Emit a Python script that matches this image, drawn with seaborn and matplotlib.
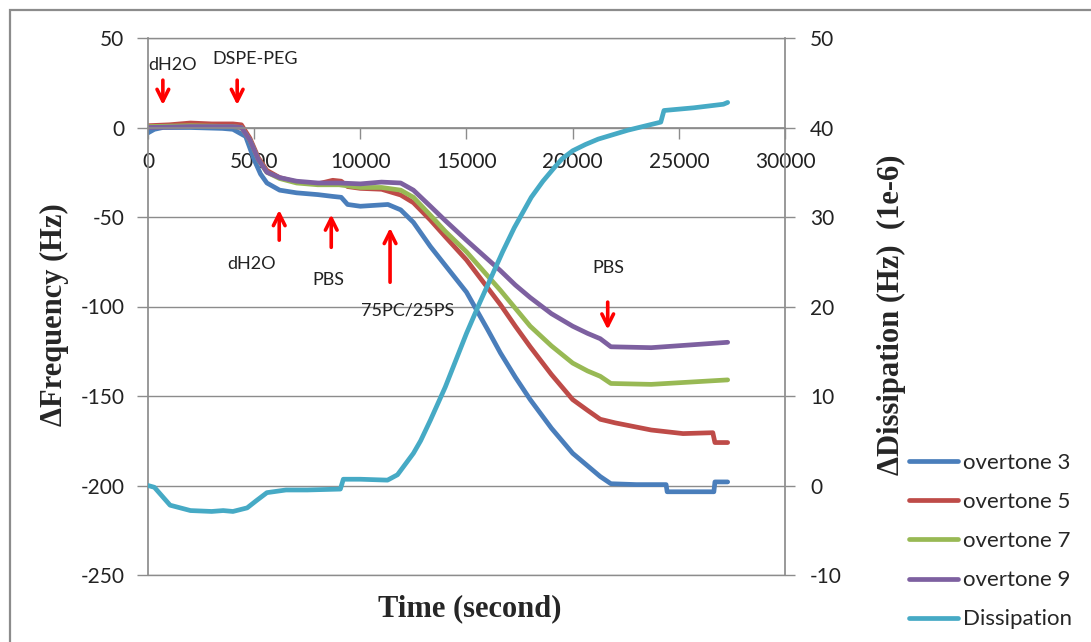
import matplotlib
matplotlib.use("Agg")
import matplotlib.pyplot as plt
from matplotlib.lines import Line2D
from matplotlib.patches import Rectangle
import seaborn as sns

# ---- QCM-D trace: frequency shifts per overtone and dissipation ----
t_ot3 = [0, 300, 700, 2000, 3500, 4000, 4600, 5000, 5300, 5600, 6200, 7000, 8000, 8700,
         9100, 9400, 10000, 11300, 11900, 12500, 13300, 14000, 15000, 16000, 16600,
         17300, 18000, 19000, 20000, 20700, 21300, 21800, 23000, 24400, 24450, 26650,
         26700, 27300]
f_ot3 = [-3, -1, 0, 0, -0.5, -1, -5, -18, -26, -31, -35, -36.5, -37.5, -38.5,
         -39, -43, -44, -43, -46, -53, -66.5, -77, -92, -113, -126,
         -139.5, -152, -168, -182, -189, -195, -199, -199.5, -199.5, -203.5, -203.5,
         -198, -198]

t_ot5 = [0, 1000, 2000, 3000, 4000, 4400, 4800, 5200, 5600, 6200, 7000, 8000, 8700,
         9100, 9400, 10000, 11000, 11900, 12500, 13300, 14000, 15000, 16600, 17300,
         18000, 19000, 20000, 20700, 21300, 22000, 23700, 25200, 26600, 26700, 27300]
f_ot5 = [1, 1.5, 2.5, 2, 2, 1.5, -6, -17, -24, -28, -30.5, -31.5, -29.5,
         -30, -33, -34, -34.5, -37.7, -42, -51.7, -61, -74, -99, -111,
         -122.5, -138, -152, -158, -163, -165, -169, -171, -170.5, -176, -176]

t_ot7 = [0, 2000, 4000, 4400, 4800, 5200, 5600, 6200, 7000, 8000, 9000, 10000, 11000,
         11900, 12500, 13300, 14000, 15000, 16600, 17300, 18000, 19000, 20000, 20700,
         21300, 21800, 23700, 27300]
f_ot7 = [0.5, 1, 0.5, 0, -7, -18, -25, -28.5, -31, -32, -32, -33.5, -33.5,
         -35, -39, -49, -58, -69.5, -91, -101, -111, -122, -131.6, -136,
         -139, -143, -143.5, -141]

t_ot9 = [0, 2000, 4000, 4400, 4800, 5200, 5600, 6200, 7000, 8000, 9000, 10000, 11000,
         11900, 12500, 13300, 14000, 15000, 16600, 17300, 18000, 19000, 20000, 20700,
         21300, 21800, 23700, 27300]
f_ot9 = [0, 0.5, 0.5, 0, -7, -18, -25, -28, -30, -31, -31, -31.5, -30.5,
         -31, -35, -44, -52, -63, -80, -88, -95, -104, -111, -115,
         -118, -122.5, -123, -120]

t_diss = [0, 300, 1040, 2000, 3000, 3540, 4000, 4670, 5100, 5600, 6500, 7500, 9060,
          9200, 10000, 11280, 11750, 12000, 12500, 12840, 13300, 14000, 14500, 15000,
          15600, 16150, 16700, 17250, 18050, 18600, 19130, 19500, 20000, 20600, 21200,
          22600, 24150, 24300, 25700, 27100, 27300]
d_diss = [0, -0.2, -2.2, -2.8, -2.9, -2.8, -2.9, -2.5, -1.7, -0.8, -0.5, -0.5, -0.4,
          0.7, 0.7, 0.6, 1.2, 2.0, 3.6, 5, 7.3, 11, 14, 17,
          20.3, 23.2, 26.1, 28.8, 32.2, 34, 35.5, 36.5, 37.4, 38.1, 38.7,
          39.7, 40.6, 41.9, 42.2, 42.6, 42.8]

series_names = ["overtone 3", "overtone 5", "overtone 7", "overtone 9", "Dissipation"]
series_colors = ["#4A7EBB", "#BE4B48", "#98B954", "#7D60A0", "#46AAC5"]

freq_ticks = [-250, -200, -150, -100, -50, 0, 50]
diss_ticks = [-10, 0, 10, 20, 30, 40, 50]
time_ticks = [0, 5000, 10000, 15000, 20000, 25000, 30000]

# (label, text x, text y, arrow x, arrow tail y, arrow tip y) in frequency units
events = [
    ("dH2O", 1150, 35, 700, 28, 11),
    ("DSPE-PEG", 5050, 38.5, 4200, 28, 11),
    ("dH2O", 4900, -76, 6180, -64.5, -44.5),
    ("PBS", 8500, -85, 8630, -68.5, -47),
    ("75PC/25PS", 12250, -102, 11400, -88, -54.5),
    ("PBS", 21700, -78.5, 21650, -96, -114.5),
]

sns.set_theme(style="white")
plt.rcParams["font.family"] = ["Lato", "DejaVu Sans"]
plt.rcParams["axes.unicode_minus"] = False
label_font = dict(family="Liberation Serif", weight="bold", size=22)
grid_grey = "#8C8C8C"

fig = plt.figure(figsize=(10.91, 6.42), dpi=100)
ax = fig.add_axes([148 / 1091, 1 - 575 / 642, (785 - 148) / 1091, (575 - 38) / 642])
ax2 = ax.twinx()

lw = 3.4
for t, f, c in zip([t_ot3, t_ot5, t_ot7, t_ot9], [f_ot3, f_ot5, f_ot7, f_ot9], series_colors[:4]):
    sns.lineplot(x=t, y=f, ax=ax, color=c, lw=lw, sort=False, estimator=None)
sns.lineplot(x=t_diss, y=d_diss, ax=ax2, color=series_colors[4], lw=lw, sort=False, estimator=None)

# left axis
ax.set_xlim(0, 30000)
ax.set_ylim(-250, 50)
ax.set_yticks(freq_ticks)
ax.set_xticks(time_ticks)
ax.set_xticklabels([str(v) for v in time_ticks])
ax.yaxis.grid(True, color=grid_grey, lw=1)
ax.xaxis.grid(False)
ax.spines["top"].set_visible(False)
ax.spines["left"].set_color(grid_grey)
ax.spines["right"].set_visible(False)
ax.tick_params(axis="y", direction="out", length=8, width=1, color=grid_grey,
               labelsize=15, pad=9, left=True, labelcolor="#222222")
ax.axhline(50, color=grid_grey, lw=1, clip_on=False, zorder=0)
ax.axhline(-250, color=grid_grey, lw=1, clip_on=False, zorder=0)

# time axis crossing at zero frequency
ax.spines["bottom"].set_position(("data", 0))
ax.spines["bottom"].set_color(grid_grey)
ax.tick_params(axis="x", direction="out", length=8, width=1, color=grid_grey,
               labelsize=15, pad=10, bottom=True, labelcolor="#222222")

# right axis
ax2.set_ylim(-10, 50)
ax2.set_yticks(diss_ticks)
ax2.grid(False)
for s in ["top", "bottom", "left"]:
    ax2.spines[s].set_visible(False)
ax2.spines["right"].set_color(grid_grey)
ax2.tick_params(axis="y", direction="out", length=7, width=1, color=grid_grey,
                labelsize=15, pad=11, right=True, labelcolor="#222222")

ax.set_xlabel("Time (second)", fontdict=label_font)
ax.xaxis.set_label_coords(0.505, -0.035)
ax.set_ylabel("\u0394Frequency (Hz)", fontdict=label_font)
ax.yaxis.set_label_coords(-0.124, 0.485)
ax2.set_ylabel("\u0394Dissipation (Hz)  (1e-6)", fontdict=label_font)
ax2.yaxis.set_label_coords(1.145, 0.485)

# event markers
for label, tx, ty, ax_x, y0, y1 in events:
    ax.annotate("", xy=(ax_x, y1), xytext=(ax_x, y0),
                arrowprops=dict(arrowstyle="->,head_length=0.7,head_width=0.35",
                                color="#FF0000", lw=2.6))
    ax.text(tx, ty, label, ha="center", va="center", fontsize=13, color="#222222")

handles = [Line2D([0], [0], color=c, lw=lw) for c in series_colors]
fig.legend(handles, series_names, loc="upper left", bbox_to_anchor=(909 / 1091, 1 - 453 / 642),
           frameon=False, fontsize=16, handlelength=2.2, handletextpad=0.25,
           labelspacing=0.86, borderaxespad=0, borderpad=0)

fig.patches.append(Rectangle((10 / 1091, -0.2), 1.5, 1.2 - 10 / 642,
                             transform=fig.transFigure, fill=False,
                             edgecolor="#8C8C8C", lw=1.6))

fig.savefig("out.png", dpi=100)
